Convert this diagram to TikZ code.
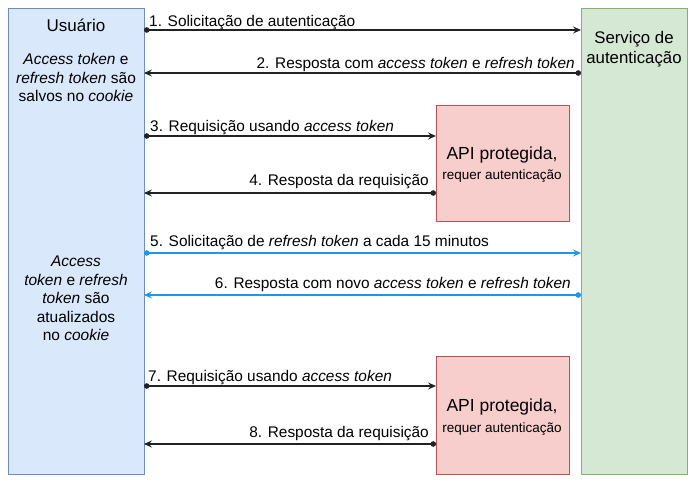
\documentclass[tikz,border=0pt]{standalone}
\usepackage{fontspec}
\setmainfont{Liberation Sans}
\usetikzlibrary{arrows.meta}
\definecolor{userfill}{HTML}{DAE8FC}
\definecolor{userdraw}{HTML}{6C8EBF}
\definecolor{authfill}{HTML}{D5E8D4}
\definecolor{authdraw}{HTML}{82B366}
\definecolor{apifill}{HTML}{F8CECC}
\definecolor{apidraw}{HTML}{B85450}
\definecolor{msgline}{HTML}{222222}
\definecolor{refreshline}{HTML}{1E96EC}
\tikzset{
  actor/.style={draw, line width=1pt, inner sep=0pt, outer sep=0pt, anchor=north west},
  userbox/.style={actor, fill=userfill, draw=userdraw},
  authbox/.style={actor, fill=authfill, draw=authdraw},
  apibox/.style={actor, fill=apifill, draw=apidraw},
  msg/.style={draw=msgline, line width=1.1pt, {Circle[length=5.5pt]}-{Stealth[length=8pt,width=7pt,inset=3pt]}},
  refresh/.style={msg, draw=refreshline},
  lbl/.style={inner sep=0pt, font=\fontsize{15.4}{18}\selectfont, text=black},
  boxtxt/.style={inner sep=0pt, align=center, font=\fontsize{15.5}{18.5}\selectfont},
  title/.style={inner sep=0pt, align=center, font=\fontsize{16.8}{20}\selectfont},
  small/.style={inner sep=0pt, font=\fontsize{13.5}{16}\selectfont},
}
\begin{document}
\begin{tikzpicture}[x=1pt,y=-1pt]
\useasboundingbox (0,0) rectangle (697,481);
% boxes
\node[userbox, minimum width=136pt, minimum height=465pt] (user) at (8,9) {};
\node[authbox, minimum width=106pt, minimum height=465pt] (auth) at (581,9) {};
\node[apibox, minimum width=133pt, minimum height=116pt] (apiA) at (436,106) {};
\node[apibox, minimum width=133pt, minimum height=117pt] (apiB) at (436,357) {};
% box texts
\node[inner sep=0pt, anchor=base, font=\fontsize{17}{20}\selectfont] (utitle) at (76,32) {Usuário};
\node[boxtxt] (unote1) at (76,77.5) {\textit{Access token} e\\\textit{refresh token} são\\salvos no \textit{cookie}};
\node[boxtxt] (unote2) at (76,298.5) {\textit{Access}\\\textit{token} e \textit{refresh}\\\textit{token} são\\atualizados\\no \textit{cookie}};
\node[title] (atitle) at (634,49) {Serviço de\\autenticação};
\node[inner sep=0pt, anchor=base, font=\fontsize{17.5}{20}\selectfont] (apiAt) at (502,160) {API protegida,};
\node[small, anchor=base] (apiAs) at (502,180) {requer autenticação};
\node[inner sep=0pt, anchor=base, font=\fontsize{17.5}{20}\selectfont] (apiBt) at (502,412) {API protegida,};
\node[small, anchor=base] (apiBs) at (502,432) {requer autenticação};
% messages
\draw[msg] (user.east |- 0,30) -- (auth.west |- 0,30);
\draw[msg] (auth.west |- 0,73) -- (user.east |- 0,73);
\draw[msg] (user.east |- 0,136) -- (apiA.west |- 0,136);
\draw[msg] (apiA.west |- 0,193) -- (user.east |- 0,193);
\draw[refresh] (user.east |- 0,253) -- (auth.west |- 0,253);
\draw[refresh] (auth.west |- 0,295) -- (user.east |- 0,295);
\draw[msg] (user.east |- 0,386) -- (apiB.west |- 0,386);
\draw[msg] (apiB.west |- 0,444) -- (user.east |- 0,444);
% labels
\node[lbl, anchor=base west] (l1) at (149,27) {1. Solicitação de autenticação};
\node[lbl, anchor=base east] (l2) at (575,68.5) {2. Resposta com \textit{access token} e \textit{refresh token}};
\node[lbl, anchor=base west] (l3) at (150,132) {3. Requisição usando \textit{access token}};
\node[lbl, anchor=base east] (l4) at (429,186) {4. Resposta da requisição};
\node[lbl, anchor=base west] (l5) at (150,247) {5. Solicitação de \textit{refresh token} a cada 15 minutos};
\node[lbl, anchor=base east] (l6) at (571,288.5) {6. Resposta com novo \textit{access token} e \textit{refresh token}};
\node[lbl, anchor=base west] (l7) at (148,382) {7. Requisição usando \textit{access token}};
\node[lbl, anchor=base east] (l8) at (429,437.5) {8. Resposta da requisição};
\end{tikzpicture}
\end{document}
